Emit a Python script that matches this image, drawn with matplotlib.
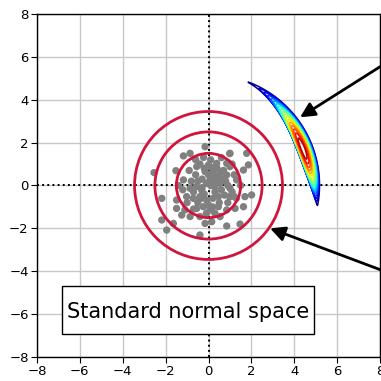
import numpy as np
import matplotlib
matplotlib.use("Agg")
import matplotlib.pyplot as plt
from matplotlib.patches import Circle, Rectangle

# ==== DATA ====
sample_x = [-0.16, -0.86, -1.17, 1.00, 1.78, -2.54, -1.52, 0.00, 0.38, 0.85,
            -0.55, -0.16, 0.23, 0.54, 0.85, 1.00, 1.63, 1.86, -1.17, -0.86,
            -0.55, -0.32, 0.07, 0.30, 0.54, 1.00, 1.31, -2.18, -1.49, -1.02,
            -0.71, -0.40, -0.09, 0.46, 1.00, 1.70, 2.01, -1.49, -1.10, -0.55,
            -0.24, 0.07, 0.46, 0.85, 1.24, 1.63, -2.18, -1.64, -1.25, -0.86,
            -0.40, -0.16, 0.15, 0.54, -1.95, -0.40, 0.85, 1.47,
            -0.30, 0.20, -0.60, 0.60, -0.20, 0.30, 0.10, -0.10, 0.80, -0.80,
            0.40, -0.40, 0.70, 0.50, -0.70, 1.10, -1.00, 0.00, 0.20, -0.50,
            0.90, 1.20, -0.90, 0.00, 0.30, -0.30, 0.60, -0.20, 0.10, -0.60,
            0.60, 1.10, -1.20, -0.10, 0.30, -0.70, 1.30, 1.50, -1.40, 0.90,
            -0.50, 0.20, -0.35, 0.75, 0.45, 0.99, -0.23, 0.13, -0.26, 1.19]
sample_y = [1.81, 1.50, 1.38, 1.50, 1.50, 0.60, 0.69, 0.96, 1.03, 1.03,
            0.88, 0.65, 0.41, 0.57, 0.49, 0.88, 0.72, 0.96, 0.26, -0.13,
            -0.05, -0.21, 0.26, -0.05, 0.10, -0.13, 0.26, -0.60, -0.68, -0.52,
            -0.60, -0.52, -0.68, -0.52, -0.52, -0.52, -0.44, -1.07, -1.14, -1.07,
            -0.99, -1.14, -0.99, -1.14, -1.07, -0.99, -1.61, -1.77, -1.38, -1.45,
            -1.45, -1.77, -1.69, -1.45, -2.08, -2.31, -1.89, -1.80,
            0.30, 0.60, 0.50, -0.20, -0.40, -0.30, 0.00, 0.10, 0.20, 0.20,
            0.80, 1.00, 0.70, -0.80, -0.30, -0.30, -0.80, -0.90, -0.60, -0.80,
            -0.80, 0.50, 0.70, 0.50, 0.20, -0.10, 0.30, 0.80, 1.20, 1.20,
            1.30, 1.00, -0.20, -1.30, -1.30, -1.10, -0.60, 0.00, 0.00, 0.00,
            0.20, -1.00, -0.60, -0.45, 0.45, 1.49, 1.31, 0.85, -0.43, -0.51]

ring_radii = [1.5, 2.5, 3.45]

# crescent (importance region) in polar coordinates
outer_radius = 5.18
bulge_depth = 0.72
theta_start = -11.0   # deg
theta_end = 73.0      # deg
skew_a, skew_b = 1.0, 1.6
exp_in, exp_out = 0.8, 1.4
color_gamma = 1.6

arrow_tips = [(4.27, 3.18), (2.87, -2.0)]
arrow_tails = [(9.0, 6.17), (9.0, -4.30)]

label_text = "Standard normal space"

# ==== FIGURE ====
fig = plt.figure(figsize=(3.81, 3.81), dpi=100)
ax = fig.add_axes([0.0971, 0.063, 0.9003, 0.9003])

ax.set_xlim(-8, 8)
ax.set_ylim(-8, 8)
ax.set_xticks(np.arange(-8, 9, 2))
ax.set_yticks(np.arange(-8, 9, 2))
ax.grid(True, color="#c8c8c8", lw=1, zorder=0)
ax.set_axisbelow(True)
ax.tick_params(direction="out", length=4, labelsize=9.5, pad=2)
for sp in ax.spines.values():
    sp.set_linewidth(1.0)

ax.axhline(0, color="black", ls=":", lw=1.4, zorder=1)
ax.axvline(0, color="black", ls=":", lw=1.4, zorder=1)

# samples
ax.scatter(sample_x, sample_y, s=28, color="#808080", edgecolors="none", zorder=2)

# rings
for r in ring_radii:
    ax.add_patch(Circle((0, 0), r, fill=False, ec="#d0143c", lw=2, zorder=3))

# crescent density
gx = np.linspace(0.5, 6.5, 800)
gy = np.linspace(-2.5, 6.0, 1000)
X, Y = np.meshgrid(gx, gy)
R = np.hypot(X, Y)
T = np.degrees(np.arctan2(Y, X))
t = np.clip((T - theta_start) / (theta_end - theta_start), 0, 1)
bump = t ** skew_a * (1 - t) ** skew_b
t_pk = skew_a / (skew_a + skew_b)
bump = bump / (t_pk ** skew_a * (1 - t_pk) ** skew_b)
r_in = outer_radius - bulge_depth * bump
Z = np.clip(R - r_in, 0, None) ** exp_in * np.clip(outer_radius - R, 0, None) ** exp_out
Z = Z ** (color_gamma / (exp_in + exp_out))
zmax = Z.max()
levels = zmax * np.linspace(0.006, 0.95, 18)
ax.contour(X, Y, Z, levels=levels, cmap="jet", vmin=0, vmax=zmax,
           linewidths=1.1, zorder=4)

# arrows
for tip, tail in zip(arrow_tips, arrow_tails):
    ax.annotate("", xy=tip, xytext=tail, annotation_clip=False,
                arrowprops=dict(arrowstyle="-|>", color="black", lw=2,
                                mutation_scale=22, shrinkA=0, shrinkB=0),
                zorder=5)

# label box
ax.add_patch(Rectangle((-6.82, -6.93), 11.73, 2.26, fc="white", ec="black",
                       lw=1, zorder=5))
ax.text(-0.94, -6.19, label_text, fontsize=15, ha="center", va="baseline",
        zorder=6)

fig.savefig("out.png", dpi=100)
